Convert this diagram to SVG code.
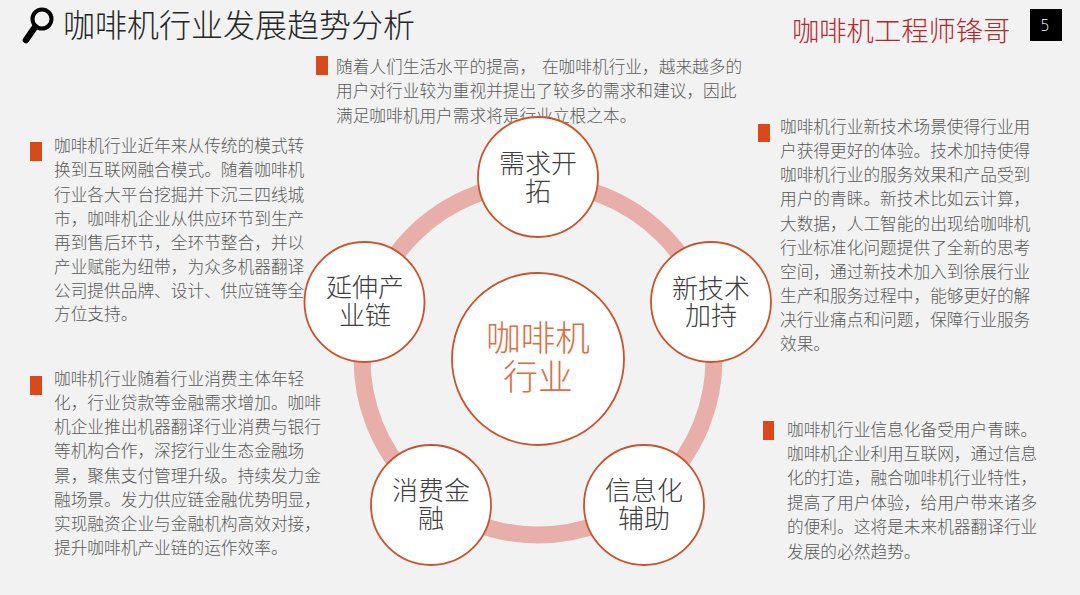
<svg xmlns="http://www.w3.org/2000/svg" width="1080" height="595" viewBox="0 0 1080 595">
<style>
text{font-family:"Noto Sans CJK SC","Noto Sans",sans-serif;font-weight:300}
.b{font-size:16.7px;fill:#595959}
.m{fill:#d84a1b}
.n{fill:#fff;stroke:#c8532c;stroke-width:1.8}
.l{font-size:26px;fill:#404040;text-anchor:middle}
.c{font-size:34.7px;fill:#e06c42;text-anchor:middle}
</style>
<rect width="1080" height="595" fill="#f2f2f2"/>
<g id="header">
<circle cx="42" cy="19" r="9.500" fill="none" stroke="#000" stroke-width="4"/>
<path d="M35 27L26 40" stroke="#000" stroke-width="6.500" stroke-linecap="round" fill="none"/>
<text x="63" y="37" font-size="32" fill="#262626">咖啡机行业发展趋势分析</text>
<text x="792" y="41" font-size="27.300" fill="#b5272d">咖啡机工程师锋哥</text>
<rect x="1030" y="9" width="32" height="32" fill="#000"/>
<text x="1045" y="31" font-size="15" fill="#fff" text-anchor="middle" style="font-family:'DejaVu Sans',sans-serif">5</text>
</g>
<g id="text-top">
<rect class="m" x="316" y="56" width="12" height="19"/>
<text class="b" x="336" y="73" word-spacing="2">随着人们生活水平的提高， 在咖啡机行业，越来越多的</text>
<text class="b" x="336" y="97">用户对行业较为重视并提出了较多的需求和建议，因此</text>
<text class="b" x="336" y="122">满足咖啡机用户需求将是行业立根之本。</text>
</g>
<g id="text-left-1">
<rect class="m" x="30" y="142" width="12" height="19"/>
<text class="b" x="54" y="152">咖啡机行业近年来从传统的模式转</text>
<text class="b" x="54" y="176">换到互联网融合模式。随着咖啡机</text>
<text class="b" x="54" y="201">行业各大平台挖掘并下沉三四线城</text>
<text class="b" x="54" y="225">市，咖啡机企业从供应环节到生产</text>
<text class="b" x="54" y="249">再到售后环节，全环节整合，并以</text>
<text class="b" x="54" y="273">产业赋能为纽带，为众多机器翻译</text>
<text class="b" x="54" y="297">公司提供品牌、设计、供应链等全</text>
<text class="b" x="54" y="320">方位支持。</text>
</g>
<g id="text-left-2">
<rect class="m" x="30" y="376" width="12" height="19"/>
<text class="b" x="54" y="385">咖啡机行业随着行业消费主体年轻</text>
<text class="b" x="54" y="409">化，行业贷款等金融需求增加。咖啡</text>
<text class="b" x="54" y="433">机企业推出机器翻译行业消费与银行</text>
<text class="b" x="54" y="457">等机构合作，深挖行业生态金融场</text>
<text class="b" x="54" y="482">景，聚焦支付管理升级。持续发力金</text>
<text class="b" x="54" y="506">融场景。发力供应链金融优势明显，</text>
<text class="b" x="54" y="530">实现融资企业与金融机构高效对接，</text>
<text class="b" x="54" y="554">提升咖啡机产业链的运作效率。</text>
</g>
<g id="text-right-1">
<rect class="m" x="758" y="124" width="12" height="18"/>
<text class="b" x="780" y="133">咖啡机行业新技术场景使得行业用</text>
<text class="b" x="780" y="157">户获得更好的体验。技术加持使得</text>
<text class="b" x="780" y="181">咖啡机行业的服务效果和产品受到</text>
<text class="b" x="780" y="205">用户的青睐。新技术比如云计算，</text>
<text class="b" x="780" y="230">大数据，人工智能的出现给咖啡机</text>
<text class="b" x="780" y="254">行业标准化问题提供了全新的思考</text>
<text class="b" x="780" y="278">空间，通过新技术加入到徐展行业</text>
<text class="b" x="780" y="302">生产和服务过程中，能够更好的解</text>
<text class="b" x="780" y="326">决行业痛点和问题，保障行业服务</text>
<text class="b" x="780" y="350">效果。</text>
</g>
<g id="text-right-2">
<rect class="m" x="763" y="421" width="11" height="19"/>
<text class="b" x="787" y="436">咖啡机行业信息化备受用户青睐。</text>
<text class="b" x="787" y="460">咖啡机企业利用互联网，通过信息</text>
<text class="b" x="787" y="484">化的打造，融合咖啡机行业特性，</text>
<text class="b" x="787" y="509">提高了用户体验，给用户带来诸多</text>
<text class="b" x="787" y="533">的便利。这将是未来机器翻译行业</text>
<text class="b" x="787" y="558">发展的必然趋势。</text>
</g>
<g id="connectors">
<circle cx="538" cy="359" r="176" fill="none" stroke="#e8aeaa" stroke-width="17"/>
</g>
<g id="node-center"><circle class="n" cx="538" cy="359" r="86"/><text class="c" x="538" y="351">咖啡机<tspan x="538" dy="39">行业</tspan></text></g>
<g id="node-top"><circle class="n" cx="538" cy="177" r="60"/><text class="l" x="538" y="173">需求开<tspan x="538" dy="28">拓</tspan></text></g>
<g id="node-right"><circle class="n" cx="711" cy="302" r="60"/><text class="l" x="711" y="298">新技术<tspan x="711" dy="27">加持</tspan></text></g>
<g id="node-bottom-right"><circle class="n" cx="644" cy="505" r="60"/><text class="l" x="644" y="500">信息化<tspan x="644" dy="28">辅助</tspan></text></g>
<g id="node-bottom-left"><circle class="n" cx="431" cy="505" r="60"/><text class="l" x="431" y="500">消费金<tspan x="431" dy="28">融</tspan></text></g>
<g id="node-left"><circle class="n" cx="364.500" cy="302" r="60"/><text class="l" x="365" y="297">延伸产<tspan x="365" dy="28">业链</tspan></text></g>
</svg>
